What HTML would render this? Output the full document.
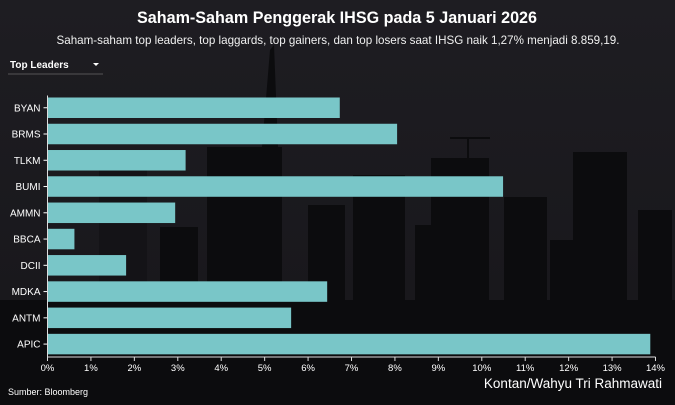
<!DOCTYPE html>
<html><head><meta charset="utf-8"><style>
html,body{margin:0;padding:0;background:#1c1b20;}
svg{display:block;font-family:"Liberation Sans",sans-serif;}
</style></head><body>
<svg id="chart" width="675" height="405" viewBox="0 0 675 405" xmlns="http://www.w3.org/2000/svg">
<defs><linearGradient id="fade" x1="0" y1="0" x2="0" y2="1"><stop offset="0" stop-color="#1e1d22"/><stop offset="1" stop-color="#17161a"/></linearGradient></defs>
<rect width="675" height="405" fill="url(#fade)"/>
<g fill="#0c0c0e">
<rect x="99" y="165" width="48" height="240" fill="#141317"/>
<rect x="160" y="227" width="38" height="178"/>
<rect x="207" y="147" width="75" height="258"/>
<polygon points="262,147 270,50 274,45 278,147"/>
<rect x="308" y="205" width="37" height="200"/>
<rect x="353" y="175" width="52" height="230"/>
<rect x="415" y="225" width="20" height="180"/>
<rect x="431" y="158" width="58" height="247"/>
<rect x="467" y="138" width="2" height="20"/>
<rect x="450" y="137" width="40" height="2"/>
<rect x="504" y="197" width="43" height="208"/>
<rect x="550" y="240" width="25" height="165"/>
<rect x="573" y="152" width="54" height="253"/>
<rect x="638" y="210" width="34" height="195"/>
<rect x="0" y="300" width="675" height="105"/>
</g>
<text x="337" y="23" text-anchor="middle" fill="#ffffff" font-size="17" font-weight="bold" textLength="400" lengthAdjust="spacingAndGlyphs">Saham-Saham Penggerak IHSG pada 5 Januari 2026</text>
<text x="338" y="44" text-anchor="middle" fill="#f0f0f0" font-size="12" textLength="563" lengthAdjust="spacingAndGlyphs">Saham-saham top leaders, top laggards, top gainers, dan top losers saat IHSG naik 1,27% menjadi 8.859,19.</text>
<g>
<text x="10" y="68" fill="#ffffff" font-size="10" font-weight="bold">Top Leaders</text>
<polygon points="93,63 99,63 96,66" fill="#ffffff"/>
<line x1="8" y1="74" x2="103" y2="74" stroke="#555" stroke-width="1"/>
</g>
<g id="bars"></g>
<g id="yaxis"></g>
<g id="xaxis"></g>
<text x="662" y="388" text-anchor="end" fill="#ffffff" font-size="13.5">Kontan/Wahyu Tri Rahmawati</text>
<text x="8" y="395" fill="#ffffff" font-size="9">Sumber: Bloomberg</text>
</svg>
<script>
const categories = ["BYAN","BRMS","TLKM","BUMI","AMMN","BBCA","DCII","MDKA","ANTM","APIC"];
const values = [6.73,8.05,3.18,10.49,2.94,0.62,1.81,6.44,5.61,13.88];
const tickValues = [0,1,2,3,4,5,6,7,8,9,10,11,12,13,14];
const tickLabels = ["0%","1%","2%","3%","4%","5%","6%","7%","8%","9%","10%","11%","12%","13%","14%"];
const NS="http://www.w3.org/2000/svg";
const x0=47.5, x1=655.5, xmax=14;
const yTop=97.5, step=26.26, barH=20.5, axisY=357;
function xs(v){return x0+(v/xmax)*(x1-x0);}
function ys(i){return yTop+i*step;}
function mk(tag,attrs,parent){const e=document.createElementNS(NS,tag);for(const k in attrs)e.setAttribute(k,attrs[k]);parent.appendChild(e);return e;}
const bars=document.getElementById('bars'),ya=document.getElementById('yaxis'),xa=document.getElementById('xaxis');
categories.forEach((c,i)=>{
  const r=mk('rect',{x:xs(0),y:ys(i),width:xs(values[i])-xs(0),height:barH,fill:'#79c6c8'},bars);
  
  
  const t=mk('text',{x:xs(0)-7,y:ys(i)+barH/2+3.5,'text-anchor':'end',fill:'#ffffff','font-size':'10'},ya);
  t.textContent=c;
  
  
  const tk=mk('line',{x1:xs(0)-4,x2:xs(0),y1:ys(i)+barH/2,y2:ys(i)+barH/2,stroke:'#fff','stroke-width':1},ya);
  
  
});
const yl=mk('line',{x1:xs(0),x2:xs(0),y1:ys(0)-2,y2:axisY,stroke:'#ddd','stroke-width':1},ya);


const xl=mk('line',{x1:xs(0),x2:xs(xmax),y1:axisY,y2:axisY,stroke:'#ddd','stroke-width':1},xa);


tickValues.forEach((v,i)=>{
  const tk=mk('line',{x1:xs(v),x2:xs(v),y1:axisY,y2:axisY+4,stroke:'#ddd','stroke-width':1},xa);
  
  
  const t=mk('text',{x:xs(v),y:axisY+14,'text-anchor':'middle',fill:'#ffffff','font-size':'9.5'},xa);
  t.textContent=tickLabels[i];
  
  
});
</script>
</body></html>
